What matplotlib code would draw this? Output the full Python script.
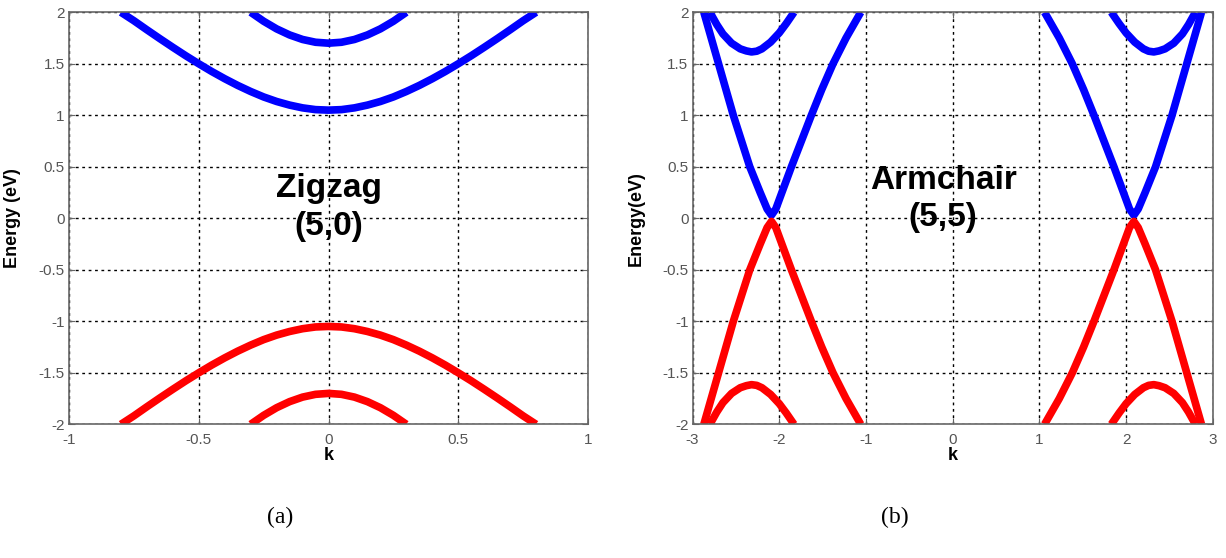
import matplotlib
matplotlib.use("Agg")
import matplotlib.pyplot as plt

# ---------------- data ----------------
# Zigzag (5,0)
zz_k1 = [-0.8, -0.75, -0.7, -0.65, -0.6, -0.55, -0.5, -0.45, -0.4, -0.35, -0.3, -0.25, -0.2, -0.15, -0.1, -0.05,
         0.0, 0.05, 0.1, 0.15, 0.2, 0.25, 0.3, 0.35, 0.4, 0.45, 0.5, 0.55, 0.6, 0.65, 0.7, 0.75, 0.8]
zz_c1 = [2.0, 1.918, 1.83, 1.744, 1.66, 1.578, 1.5, 1.425, 1.355, 1.29, 1.231, 1.178, 1.134, 1.099, 1.072, 1.055,
         1.05, 1.055, 1.072, 1.099, 1.134, 1.178, 1.231, 1.29, 1.355, 1.425, 1.5, 1.578, 1.66, 1.744, 1.83, 1.918, 2.0]
zz_v1 = [-2.0, -1.918, -1.83, -1.744, -1.66, -1.578, -1.5, -1.425, -1.355, -1.29, -1.231, -1.178, -1.134, -1.099, -1.072, -1.055,
         -1.05, -1.055, -1.072, -1.099, -1.134, -1.178, -1.231, -1.29, -1.355, -1.425, -1.5, -1.578, -1.66, -1.744, -1.83, -1.918, -2.0]
zz_k2 = [-0.3, -0.25, -0.2, -0.15, -0.1, -0.05, 0.0, 0.05, 0.1, 0.15, 0.2, 0.25, 0.3]
zz_c2 = [2.0, 1.913, 1.839, 1.78, 1.736, 1.709, 1.70, 1.709, 1.736, 1.78, 1.839, 1.913, 2.0]
zz_v2 = [-2.0, -1.913, -1.839, -1.78, -1.736, -1.709, -1.70, -1.709, -1.736, -1.78, -1.839, -1.913, -2.0]

# Armchair (5,5)
ac_kL = [-2.87, -2.785, -2.70, -2.615, -2.53, -2.435, -2.34, -2.22, -2.14, -2.09,
         -2.04, -1.97, -1.86, -1.745, -1.63, -1.51, -1.38, -1.23, -1.06]
ac_kR = [1.06, 1.23, 1.38, 1.51, 1.63, 1.745, 1.86, 1.97, 2.04,
         2.09, 2.14, 2.22, 2.34, 2.435, 2.53, 2.615, 2.70, 2.785, 2.87]
ac_cL = [2.0, 1.75, 1.5, 1.25, 1.0, 0.75, 0.5, 0.25, 0.09, 0.03,
         0.09, 0.25, 0.5, 0.75, 1.0, 1.25, 1.5, 1.75, 2.0]
ac_vL = [-2.0, -1.75, -1.5, -1.25, -1.0, -0.75, -0.5, -0.25, -0.09, -0.03,
         -0.09, -0.25, -0.5, -0.75, -1.0, -1.25, -1.5, -1.75, -2.0]
ac_cR = [2.0, 1.75, 1.5, 1.25, 1.0, 0.75, 0.5, 0.25, 0.09,
         0.03, 0.09, 0.25, 0.5, 0.75, 1.0, 1.25, 1.5, 1.75, 2.0]
ac_vR = [-2.0, -1.75, -1.5, -1.25, -1.0, -0.75, -0.5, -0.25, -0.09,
         -0.03, -0.09, -0.25, -0.5, -0.75, -1.0, -1.25, -1.5, -1.75, -2.0]
ac_kLs = [-2.8, -2.72, -2.65, -2.55, -2.45, -2.38, -2.32, -2.26, -2.2, -2.1, -2.0, -1.92, -1.83]
ac_kRs = [1.83, 1.92, 2.0, 2.1, 2.2, 2.26, 2.32, 2.38, 2.45, 2.55, 2.65, 2.72, 2.8]
ac_cLs = [2.0, 1.88, 1.79, 1.70, 1.645, 1.625, 1.615, 1.622, 1.645, 1.71, 1.80, 1.89, 2.0]
ac_cRs = [2.0, 1.89, 1.80, 1.71, 1.645, 1.622, 1.615, 1.625, 1.645, 1.70, 1.79, 1.88, 2.0]
ac_vLs = [-2.0, -1.88, -1.79, -1.70, -1.645, -1.625, -1.615, -1.622, -1.645, -1.71, -1.80, -1.89, -2.0]
ac_vRs = [-2.0, -1.89, -1.80, -1.71, -1.645, -1.622, -1.615, -1.625, -1.645, -1.70, -1.79, -1.88, -2.0]

zz_xticks = [-1, -0.5, 0, 0.5, 1]
zz_xlabels = ["-1", "-0.5", "0", "0.5", "1"]
ac_xticks = [-3, -2, -1, 0, 1, 2, 3]
ac_xlabels = ["-3", "-2", "-1", "0", "1", "2", "3"]
yticks = [-2, -1.5, -1, -0.5, 0, 0.5, 1, 1.5, 2]
ylabels = ["-2", "-1.5", "-1", "-0.5", "0", "0.5", "1", "1.5", "2"]

BLUE = "#0000ff"
RED = "#ff0000"
LW = 5.5

fig = plt.figure(figsize=(12.26, 5.58), dpi=100)
ax1 = fig.add_axes([0.0563, 0.2396, 0.4233, 0.7384])
ax2 = fig.add_axes([0.5649, 0.2396, 0.4243, 0.7384])

tickfont = dict(family=["Liberation Sans", "DejaVu Sans"], size=11, color="#555555")


def style(ax, xt, xl, ylab):
    ax.set_ylim(-2, 2)
    ax.set_xticks(xt)
    ax.set_xticklabels(xl, **tickfont)
    ax.set_yticks(yticks)
    ax.set_yticklabels(ylabels, **tickfont)
    ax.set_xlim(xt[0], xt[-1])
    ax.grid(True, color="black", linestyle=(0, (2.0, 2.6)), linewidth=1.0)
    ax.set_axisbelow(True)
    ax.tick_params(axis="x", direction="in", length=4, color="#666666", pad=6, top=True)
    ax.tick_params(axis="y", direction="in", length=4, color="#666666", pad=3, right=True)
    for s in ax.spines.values():
        s.set_color("#666666")
        s.set_linewidth(1.2)
    ax.set_xlabel("k", fontsize=13, fontweight="bold", family="Liberation Sans")
    ax.set_ylabel(ylab, fontsize=13, fontweight="bold", family="Liberation Sans")
    ax.xaxis.set_label_coords(0.5, -0.056)
    ax.yaxis.set_label_coords(-0.092, 0.5)


kw = dict(lw=LW, solid_capstyle="butt", solid_joinstyle="round")

# Zigzag panel
ax1.plot(zz_k1, zz_c1, color=BLUE, **kw)
ax1.plot(zz_k2, zz_c2, color=BLUE, **kw)
ax1.plot(zz_k1, zz_v1, color=RED, **kw)
ax1.plot(zz_k2, zz_v2, color=RED, **kw)
style(ax1, zz_xticks, zz_xlabels, "Energy (eV)")
ax1.text(0.0, 0.105, "Zigzag\n(5,0)", ha="center", va="center", fontsize=24,
         fontweight="bold", family="Liberation Sans", linespacing=1.3)

# Armchair panel
ax2.plot(ac_kL, ac_cL, color=BLUE, **kw)
ax2.plot(ac_kR, ac_cR, color=BLUE, **kw)
ax2.plot(ac_kLs, ac_cLs, color=BLUE, **kw)
ax2.plot(ac_kRs, ac_cRs, color=BLUE, **kw)
ax2.plot(ac_kL, ac_vL, color=RED, **kw)
ax2.plot(ac_kR, ac_vR, color=RED, **kw)
ax2.plot(ac_kLs, ac_vLs, color=RED, **kw)
ax2.plot(ac_kRs, ac_vRs, color=RED, **kw)
style(ax2, ac_xticks, ac_xlabels, "Energy(eV)")
ax2.text(-0.11, 0.19, "Armchair\n(5,5)", ha="center", va="center", fontsize=24,
         fontweight="bold", family="Liberation Sans", linespacing=1.25)

fig.text(280 / 1226, 1 - 517 / 558, "(a)", ha="center", va="center", fontsize=17, family="Liberation Serif")
fig.text(895 / 1226, 1 - 517 / 558, "(b)", ha="center", va="center", fontsize=17, family="Liberation Serif")

fig.savefig("out.png", dpi=100)
